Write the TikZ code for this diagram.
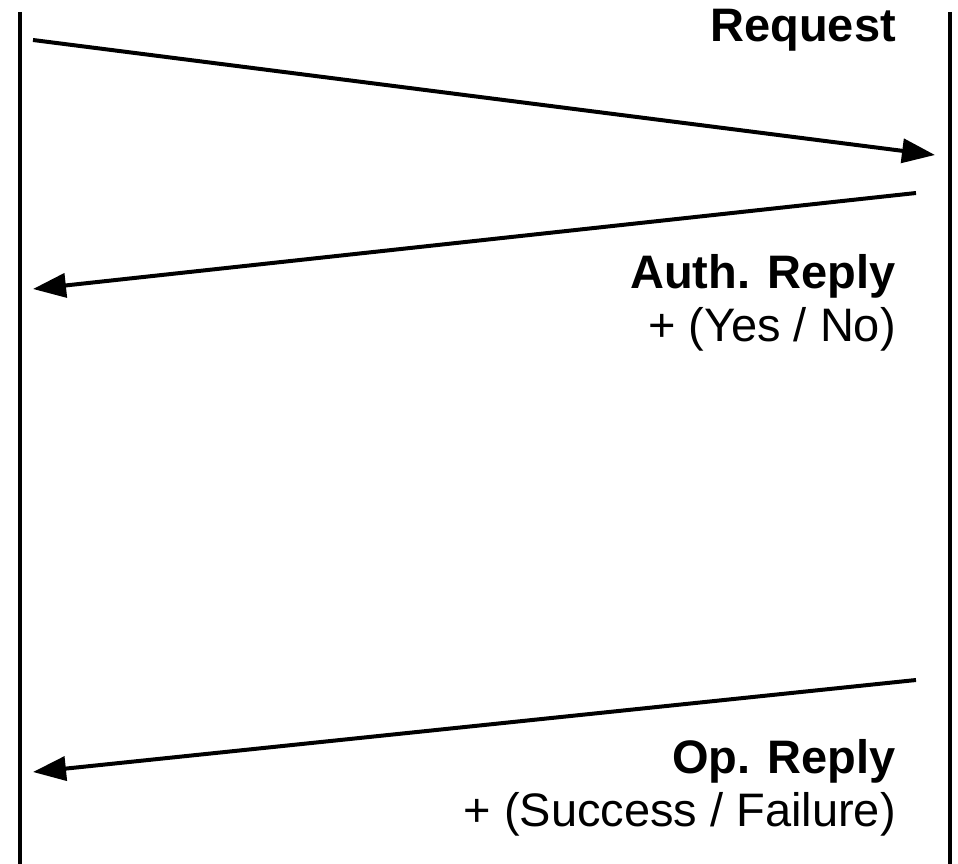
\documentclass[tikz,border=0pt]{standalone}
\usepackage{fontspec}
\setmainfont{Liberation Sans}
\usetikzlibrary{arrows.meta}
\begin{document}
\begin{tikzpicture}[x=1pt,y=-1pt,
  lifeline/.style={line width=4pt},
  msg/.style={line width=4pt,-{Triangle[length=33pt,width=24pt]}},
  lbl/.style={anchor=base east,inner sep=0pt,font=\fontsize{47}{54}\selectfont},
  lblb/.style={lbl,font=\fontsize{47}{54}\selectfont\bfseries}]
\useasboundingbox (0,0) rectangle (958,864);
\coordinate (Ltop) at (20,12);
\coordinate (Lbot) at (20,866);
\coordinate (Rtop) at (950,12);
\coordinate (Rbot) at (950,866);
\draw[lifeline] (Ltop) -- (Lbot);
\draw[lifeline] (Rtop) -- (Rbot);
\coordinate (r1) at (33,40);
\coordinate (r2) at (935,155);
\coordinate (a1) at (916,193);
\coordinate (a2) at (33,289);
\coordinate (o1) at (916,680);
\coordinate (o2) at (33,772);
\draw[msg] (r1) -- (r2);
\draw[msg] (a1) -- (a2);
\draw[msg] (o1) -- (o2);
\node[lblb] (req) at (896,42) {Request};
\node[lblb] (auth) at (896,288) {Auth. Reply};
\node[lbl] (yn) at (896,341) {+ (Yes / No)};
\node[lblb] (op) at (896,773) {Op. Reply};
\node[lbl] (sf) at (896,826) {+ (Success / Failure)};
\end{tikzpicture}
\end{document}
